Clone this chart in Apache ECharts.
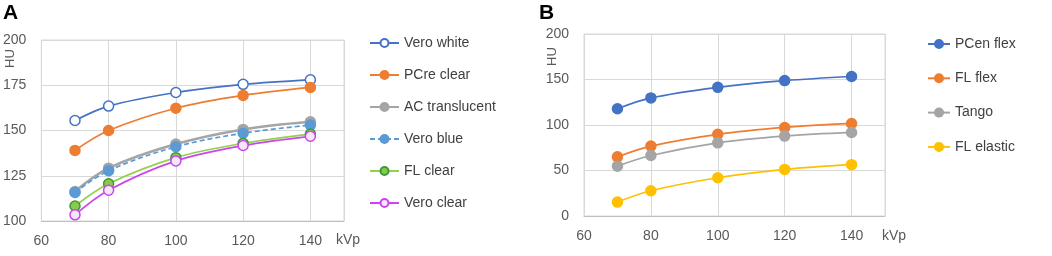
<!DOCTYPE html>
<html>
<head>
<meta charset="utf-8">
<script src="https://cdn.jsdelivr.net/npm/echarts@6/dist/echarts.min.js"></script>
<style>
  body { margin: 0; background: #fff; }
  #chart { width: 1052px; height: 256px; }
</style>
</head>
<body>
<div id="chart"></div>
<script>
// kVp values (x)
var kvp = [70, 80, 100, 120, 140];

// panel A
var namesA = ['Vero white', 'PCre clear', 'AC translucent', 'Vero blue', 'FL clear', 'Vero clear'];
var veroWhite     = [155.5, 163.5, 171, 175.5, 178];
var pcreClear     = [139, 150, 162.3, 169.4, 173.8];
var acTranslucent = [116.3, 129.2, 142.5, 150.6, 154.8];
var veroBlue      = [115.8, 127.8, 141, 148.5, 153];
var flClear       = [108.3, 120.6, 135, 142.9, 148];
var veroClear     = [103.4, 117, 133.2, 141.7, 146.8];

// panel B
var namesB = ['PCen flex', 'FL flex', 'Tango', 'FL elastic'];
var pcenFlex  = [117.8, 129.8, 141.4, 148.8, 153.3];
var flFlex    = [65, 76.8, 89.7, 97.3, 101.7];
var tango     = [54.8, 66.5, 80.4, 87.8, 91.8];
var flElastic = [15.3, 27.8, 42, 51.2, 56.4];

// axis ticks
var xTicks = [60, 150, 20];
var yTicksA = [100, 200, 25];
var yTicksB = [0, 200, 50];

function pairs(ys) {
    return kvp.map(function (x, i) { return [x, ys[i]]; });
}

var labelStyle = { color: '#595959', fontSize: 14, fontFamily: 'Liberation Sans, Arial, sans-serif' };

function mkSeries(name, data, idx, color, fill, border, dashed, width) {
    return {
        name: name,
        type: 'line',
        xAxisIndex: idx,
        yAxisIndex: idx,
        smooth: 0.35,
        data: pairs(data),
        symbol: 'circle',
        symbolSize: 10,
        lineStyle: { color: color, width: width || 1.7, type: dashed ? [5, 3] : 'solid' },
        itemStyle: { color: fill, borderColor: border, borderWidth: 1.5 },
        emphasis: { disabled: true }
    };
}

function mkX(idx) {
    return {
        type: 'value', gridIndex: idx,
        min: xTicks[0], max: xTicks[1], interval: xTicks[2],
        axisLine: { show: true, lineStyle: { color: '#bfbfbf' } },
        axisTick: { show: false },
        axisLabel: Object.assign({ margin: 13, showMaxLabel: false }, labelStyle),
        splitLine: { show: true, lineStyle: { color: '#d9d9d9' } }
    };
}

function mkY(idx, t) {
    return {
        type: 'value', gridIndex: idx,
        min: t[0], max: t[1], interval: t[2],
        axisLine: { show: false },
        axisTick: { show: false },
        axisLabel: Object.assign({ margin: 15 }, labelStyle),
        splitLine: { show: true, lineStyle: { color: '#d9d9d9' } }
    };
}

var myChart = echarts.init(document.getElementById('chart'));

var option = {
    animation: false,
    backgroundColor: '#fff',
    grid: [
        { left: 41, top: 40, width: 303, height: 181, show: true, borderColor: '#d9d9d9', borderWidth: 1 },
        { left: 584, top: 34, width: 301, height: 182, show: true, borderColor: '#d9d9d9', borderWidth: 1 }
    ],
    xAxis: [mkX(0), mkX(1)],
    yAxis: [mkY(0, yTicksA), mkY(1, yTicksB)],
    legend: [
        {
            data: namesA, orient: 'vertical', left: 369, top: 36, padding: 0,
            itemWidth: 29, itemHeight: 10, itemGap: 18,
            textStyle: { color: '#404040', fontSize: 14, fontFamily: 'Liberation Sans, Arial, sans-serif' }
        },
        {
            data: namesB, orient: 'vertical', left: 927, top: 37, padding: 0,
            itemWidth: 22, itemHeight: 10, itemGap: 20.3,
            textStyle: { color: '#404040', fontSize: 14, fontFamily: 'Liberation Sans, Arial, sans-serif' }
        }
    ],
    graphic: [
        { type: 'text', left: 3, top: 3, style: { text: 'A', font: 'bold 21px Liberation Sans, Arial, sans-serif', fill: '#000' } },
        { type: 'text', left: 539, top: 3, style: { text: 'B', font: 'bold 21px Liberation Sans, Arial, sans-serif', fill: '#000' } },
        { type: 'text', x: 4, y: 68, rotation: Math.PI / 2, style: { text: 'HU', font: '13px Liberation Sans, Arial, sans-serif', fill: '#595959' } },
        { type: 'text', x: 546, y: 66, rotation: Math.PI / 2, style: { text: 'HU', font: '13px Liberation Sans, Arial, sans-serif', fill: '#595959' } },
        { type: 'text', x: 336, y: 233, style: { text: 'kVp', font: '14px Liberation Sans, Arial, sans-serif', fill: '#595959' } },
        { type: 'text', x: 882, y: 229, style: { text: 'kVp', font: '14px Liberation Sans, Arial, sans-serif', fill: '#595959' } }
    ],
    series: [
        mkSeries(namesA[0], veroWhite, 0, '#4472c4', '#ffffff', '#4472c4'),
        mkSeries(namesA[1], pcreClear, 0, '#ed7d31', '#ed7d31', '#ed7d31'),
        mkSeries(namesA[2], acTranslucent, 0, '#a5a5a5', '#a5a5a5', '#a5a5a5', false, 2.6),
        mkSeries(namesA[3], veroBlue, 0, '#5b9bd5', '#5b9bd5', '#5b9bd5', true),
        mkSeries(namesA[4], flClear, 0, '#92d050', '#8cc84b', '#3c9a3c'),
        mkSeries(namesA[5], veroClear, 0, '#cc44ee', '#f3e8f7', '#cc44ee'),
        mkSeries(namesB[0], pcenFlex, 1, '#4472c4', '#4472c4', '#4472c4'),
        mkSeries(namesB[1], flFlex, 1, '#ed7d31', '#ed7d31', '#ed7d31'),
        mkSeries(namesB[2], tango, 1, '#a5a5a5', '#a5a5a5', '#a5a5a5'),
        mkSeries(namesB[3], flElastic, 1, '#ffc000', '#ffc000', '#ffc000')
    ]
};

myChart.setOption(option);
</script>
</body>
</html>
